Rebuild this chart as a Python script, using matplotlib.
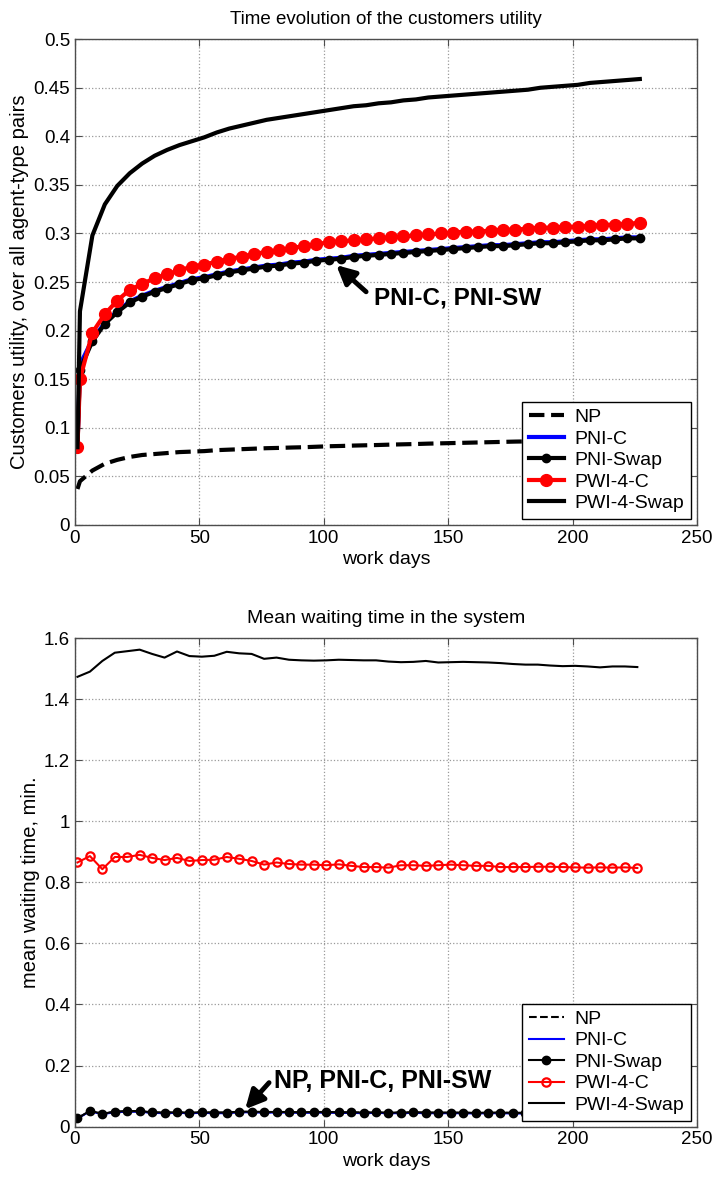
import matplotlib
matplotlib.use('Agg')
import matplotlib.pyplot as plt
from matplotlib.ticker import FormatStrFormatter

plt.rcParams['font.family'] = ['Liberation Sans', 'DejaVu Sans']

# sampling days (top panel has an extra sample at day 2)
days_top = [1, 2] + list(range(7, 228, 5))
days_bot = [1] + list(range(6, 227, 5))

labels = ['NP', 'PNI-C', 'PNI-Swap', 'PWI-4-C', 'PWI-4-Swap']

# ---- customers utility ----
util_np = [0.037, 0.045, 0.056, 0.063, 0.067, 0.070, 0.072, 0.073, 0.074, 0.075,
           0.0755, 0.076, 0.077, 0.0775, 0.078, 0.0785, 0.079, 0.0793, 0.0797, 0.080,
           0.0805, 0.081, 0.0813, 0.0817, 0.082, 0.0823, 0.0827, 0.083, 0.0833, 0.0837,
           0.084, 0.0843, 0.0846, 0.0849, 0.0852, 0.0855, 0.0858, 0.086, 0.0863, 0.0866,
           0.0869, 0.0872, 0.0874, 0.0876, 0.0878, 0.088, 0.0882]
util_pni_c = [0.080, 0.165, 0.191, 0.208, 0.220, 0.230, 0.236, 0.241, 0.245, 0.249,
              0.253, 0.255, 0.258, 0.261, 0.263, 0.265, 0.267, 0.268, 0.270, 0.271,
              0.273, 0.274, 0.275, 0.277, 0.278, 0.279, 0.280, 0.281, 0.282, 0.283,
              0.284, 0.285, 0.286, 0.287, 0.288, 0.288, 0.289, 0.290, 0.291, 0.291,
              0.292, 0.293, 0.294, 0.294, 0.295, 0.296, 0.296]
util_pni_sw = [0.080, 0.160, 0.189, 0.207, 0.219, 0.229, 0.235, 0.240, 0.244, 0.248,
               0.252, 0.254, 0.257, 0.260, 0.262, 0.264, 0.266, 0.267, 0.269, 0.270,
               0.272, 0.273, 0.274, 0.276, 0.277, 0.278, 0.279, 0.280, 0.281, 0.282,
               0.283, 0.284, 0.285, 0.286, 0.287, 0.287, 0.288, 0.289, 0.290, 0.290,
               0.291, 0.292, 0.293, 0.293, 0.294, 0.295, 0.295]
util_pwi_c = [0.080, 0.150, 0.198, 0.217, 0.231, 0.242, 0.248, 0.254, 0.258, 0.262,
              0.266, 0.268, 0.271, 0.274, 0.276, 0.279, 0.281, 0.283, 0.285, 0.287,
              0.289, 0.291, 0.292, 0.293, 0.294, 0.295, 0.296, 0.297, 0.298, 0.299,
              0.300, 0.301, 0.302, 0.302, 0.303, 0.304, 0.304, 0.305, 0.306, 0.306,
              0.307, 0.307, 0.308, 0.309, 0.309, 0.310, 0.311]
util_pwi_sw = [0.080, 0.220, 0.298, 0.330, 0.349, 0.362, 0.372, 0.380, 0.386, 0.391,
               0.395, 0.399, 0.404, 0.408, 0.411, 0.414, 0.417, 0.419, 0.421, 0.423,
               0.425, 0.427, 0.429, 0.431, 0.432, 0.434, 0.435, 0.437, 0.438, 0.440,
               0.441, 0.442, 0.443, 0.444, 0.445, 0.446, 0.447, 0.448, 0.450, 0.451,
               0.452, 0.453, 0.455, 0.456, 0.457, 0.458, 0.459]

# ---- mean waiting time ----
wait_np = [0.028, 0.050, 0.043, 0.048, 0.050, 0.050, 0.046, 0.046, 0.046, 0.046,
           0.046, 0.046, 0.046, 0.048, 0.048, 0.047, 0.047, 0.047, 0.046, 0.047,
           0.047, 0.046, 0.046, 0.046, 0.046, 0.046, 0.046, 0.046, 0.046, 0.045,
           0.045, 0.045, 0.045, 0.045, 0.045, 0.045, 0.045, 0.045, 0.045, 0.044,
           0.044, 0.044, 0.044, 0.044, 0.044, 0.044]
wait_pni_c = [0.027, 0.050, 0.041, 0.047, 0.049, 0.049, 0.045, 0.044, 0.045, 0.044,
              0.045, 0.044, 0.044, 0.047, 0.047, 0.046, 0.046, 0.046, 0.045, 0.046,
              0.046, 0.045, 0.045, 0.044, 0.045, 0.044, 0.044, 0.045, 0.044, 0.044,
              0.044, 0.044, 0.043, 0.044, 0.044, 0.043, 0.043, 0.043, 0.044, 0.043,
              0.043, 0.043, 0.043, 0.043, 0.042, 0.042]
wait_pni_sw = [0.027, 0.052, 0.042, 0.049, 0.051, 0.051, 0.047, 0.046, 0.047, 0.046,
               0.047, 0.046, 0.046, 0.049, 0.049, 0.048, 0.048, 0.048, 0.047, 0.048,
               0.048, 0.047, 0.047, 0.046, 0.047, 0.046, 0.046, 0.047, 0.046, 0.046,
               0.046, 0.046, 0.045, 0.046, 0.046, 0.045, 0.045, 0.045, 0.046, 0.045,
               0.045, 0.045, 0.045, 0.045, 0.044, 0.044]
wait_pwi_c = [0.865, 0.886, 0.843, 0.883, 0.883, 0.890, 0.880, 0.873, 0.880, 0.870,
              0.873, 0.874, 0.883, 0.877, 0.870, 0.858, 0.865, 0.860, 0.858, 0.858,
              0.856, 0.859, 0.854, 0.850, 0.850, 0.848, 0.856, 0.856, 0.854, 0.856,
              0.858, 0.856, 0.854, 0.854, 0.850, 0.850, 0.850, 0.851, 0.851, 0.850,
              0.849, 0.848, 0.849, 0.848, 0.849, 0.847]
wait_pwi_sw = [1.473, 1.490, 1.525, 1.552, 1.557, 1.562, 1.548, 1.536, 1.556, 1.541,
               1.539, 1.542, 1.555, 1.550, 1.548, 1.532, 1.536, 1.529, 1.527, 1.526,
               1.527, 1.529, 1.528, 1.527, 1.527, 1.523, 1.521, 1.522, 1.525, 1.520,
               1.521, 1.522, 1.521, 1.520, 1.518, 1.515, 1.513, 1.513, 1.510, 1.508,
               1.509, 1.507, 1.504, 1.507, 1.507, 1.505]


def style_axes(ax):
    ax.grid(True, linestyle=':', color='0.6', linewidth=0.9)
    ax.tick_params(direction='in', top=True, right=True, length=5,
                   labelsize=13.5, color='0.3')
    for sp in ax.spines.values():
        sp.set_color('0.3')
        sp.set_linewidth(1.0)
    ax.set_xlim(0, 250)
    ax.set_xticks([0, 50, 100, 150, 200, 250])
    ax.yaxis.set_major_formatter(FormatStrFormatter('%g'))
    ax.set_xlabel('work days', fontsize=14, labelpad=3)


def add_legend(ax):
    leg = ax.legend(loc='lower right', fontsize=14, frameon=True, fancybox=False,
                    edgecolor='k', handlelength=1.8, handletextpad=0.55,
                    labelspacing=0.2, borderaxespad=0.3, borderpad=0.35)
    leg.get_frame().set_linewidth(1.0)
    leg.get_frame().set_alpha(1)


fig = plt.figure(figsize=(7.12, 11.77), dpi=100)
ax1 = fig.add_axes([0.1053, 0.554, 0.8737, 0.4127])
ax2 = fig.add_axes([0.1053, 0.0428, 0.8737, 0.4151])

# top panel
ax1.plot(days_top, util_np, '--', color='k', lw=3, label=labels[0])
ax1.plot(days_top, util_pni_c, '-', color='b', lw=3, label=labels[1])
ax1.plot(days_top, util_pni_sw, '-', color='k', lw=3, marker='o', ms=6, label=labels[2])
ax1.plot(days_top, util_pwi_c, '-', color='r', lw=3, marker='o', ms=8.5, label=labels[3])
ax1.plot(days_top, util_pwi_sw, '-', color='k', lw=3, label=labels[4])
style_axes(ax1)
ax1.set_ylim(0, 0.5)
ax1.set_yticks([i * 0.05 for i in range(11)])
ax1.set_ylabel('Customers utility, over all agent-type pairs', fontsize=14.5, labelpad=3)
ax1.set_title('Time evolution of the customers utility', fontsize=13.5, pad=11)
ax1.annotate('', xy=(105, 0.2675), xytext=(117, 0.240),
             arrowprops=dict(arrowstyle='-|>', color='k', lw=3.5, mutation_scale=28,
                             shrinkA=0, shrinkB=0))
ax1.text(120, 0.2335, 'PNI-C, PNI-SW', fontsize=17.5, fontweight='bold',
         ha='left', va='center')
add_legend(ax1)

# bottom panel
ax2.plot(days_bot, wait_np, '--', color='k', lw=1.5, label=labels[0])
ax2.plot(days_bot, wait_pni_c, '-', color='b', lw=1.5, label=labels[1])
ax2.plot(days_bot, wait_pni_sw, '-', color='k', lw=1.5, marker='o', ms=6, label=labels[2])
ax2.plot(days_bot, wait_pwi_c, '-', color='r', lw=1.5, marker='o', ms=6,
         mfc='none', mew=1.6, label=labels[3])
ax2.plot(days_bot, wait_pwi_sw, '-', color='k', lw=1.5, label=labels[4])
style_axes(ax2)
ax2.set_ylim(0, 1.6)
ax2.set_yticks([i * 0.2 for i in range(9)])
ax2.set_ylabel('mean waiting time, min.', fontsize=14.5, labelpad=3)
ax2.set_title('Mean waiting time in the system', fontsize=14, pad=11)
ax2.annotate('', xy=(68.4, 0.057), xytext=(78, 0.144),
             arrowprops=dict(arrowstyle='-|>', color='k', lw=3.5, mutation_scale=28,
                             shrinkA=0, shrinkB=0))
ax2.text(80, 0.148, 'NP, PNI-C, PNI-SW', fontsize=18, fontweight='bold',
         ha='left', va='center')
add_legend(ax2)

fig.savefig('out.png', dpi=100)
